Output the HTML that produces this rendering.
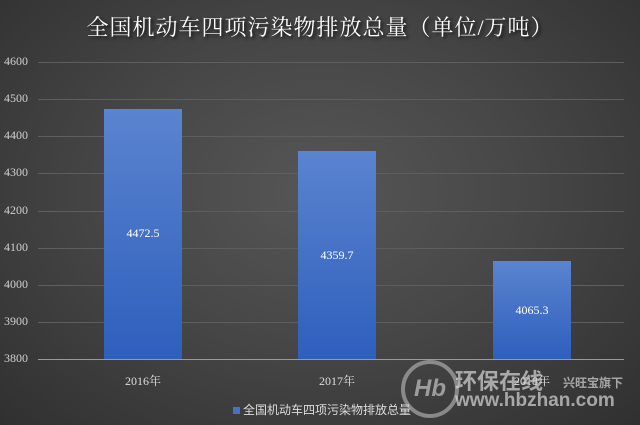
<!DOCTYPE html>
<html><head><meta charset="utf-8"><style>
html,body{margin:0;padding:0}
body{width:640px;height:425px;overflow:hidden;position:relative;background:radial-gradient(ellipse at 50% 45%,#565656 0%,#474747 45%,#303030 100%);font-family:"Liberation Serif","Noto Serif CJK SC",serif;color:#d9d9d9}
.t{position:absolute;left:0;width:640px;top:11px;text-align:center;font-family:"Liberation Serif","Noto Serif CJK SC",serif;font-size:22px;letter-spacing:1px;color:#fff;text-shadow:2px 2px 3px #111}
.g{position:absolute;left:38px;width:586px;height:1px;background:#5e5e5e}
.yl{position:absolute;left:4px;width:30px;font-size:12px;color:#d0d0d0;text-align:left}
.b{position:absolute;width:78px;background:linear-gradient(#5b84cf,#2e5fbd)}
.v{position:absolute;width:78px;text-align:center;font-size:12px;color:#fff}
.x{position:absolute;width:100px;text-align:center;font-size:12px;color:#ddd;top:372px}
</style></head><body>
<div class="t">全国机动车四项污染物排放总量（单位/万吨）</div>
<div class="g" style="top:62px"></div><div class="yl" style="top:54px">4600</div>
<div class="g" style="top:99px"></div><div class="yl" style="top:91px">4500</div>
<div class="g" style="top:136px"></div><div class="yl" style="top:128px">4400</div>
<div class="g" style="top:173px"></div><div class="yl" style="top:165px">4300</div>
<div class="g" style="top:211px"></div><div class="yl" style="top:203px">4200</div>
<div class="g" style="top:248px"></div><div class="yl" style="top:240px">4100</div>
<div class="g" style="top:285px"></div><div class="yl" style="top:277px">4000</div>
<div class="g" style="top:322px"></div><div class="yl" style="top:314px">3900</div>
<div class="yl" style="top:351px">3800</div>
<div class="b" style="left:104px;top:109px;height:250px"></div>
<div class="b" style="left:298px;top:151px;height:208px"></div>
<div class="b" style="left:493px;top:261px;height:98px"></div>
<div class="g" style="top:359px;background:#9a9a9a"></div>
<div class="v" style="left:104px;top:226px">4472.5</div>
<div class="v" style="left:298px;top:248px">4359.7</div>
<div class="v" style="left:493px;top:303px">4065.3</div>
<div class="x" style="left:93px">2016年</div>
<div class="x" style="left:287px">2017年</div>
<div class="x" style="left:482px">2018年</div>
<div style="position:absolute;top:401px;left:233px;font-size:12px;color:#ddd;font-family:'Liberation Sans','Noto Sans CJK SC',sans-serif"><span style="display:inline-block;width:7px;height:7px;background:#4472c4;margin-right:3px"></span>全国机动车四项污染物排放总量</div>
<div style="position:absolute;left:401px;top:360px;width:50px;height:50px;border:4px solid rgba(200,200,200,.55);border-radius:50%;color:rgba(220,220,220,.6);font:bold italic 24px 'Liberation Sans',sans-serif;text-align:center;line-height:50px">Hb</div>
<div style="position:absolute;left:455px;top:364px;font:bold 22px 'Noto Sans CJK SC',sans-serif;color:rgba(215,215,215,.7)">环保在线</div>
<div style="position:absolute;left:563px;top:374px;font:bold 12px 'Noto Sans CJK SC',sans-serif;color:rgba(215,215,215,.7)">兴旺宝旗下</div>
<div style="position:absolute;left:455px;top:390px;font:bold 19px 'Liberation Sans',sans-serif;color:rgba(215,215,215,.7)">www.hbzhan.com</div>
</body></html>
